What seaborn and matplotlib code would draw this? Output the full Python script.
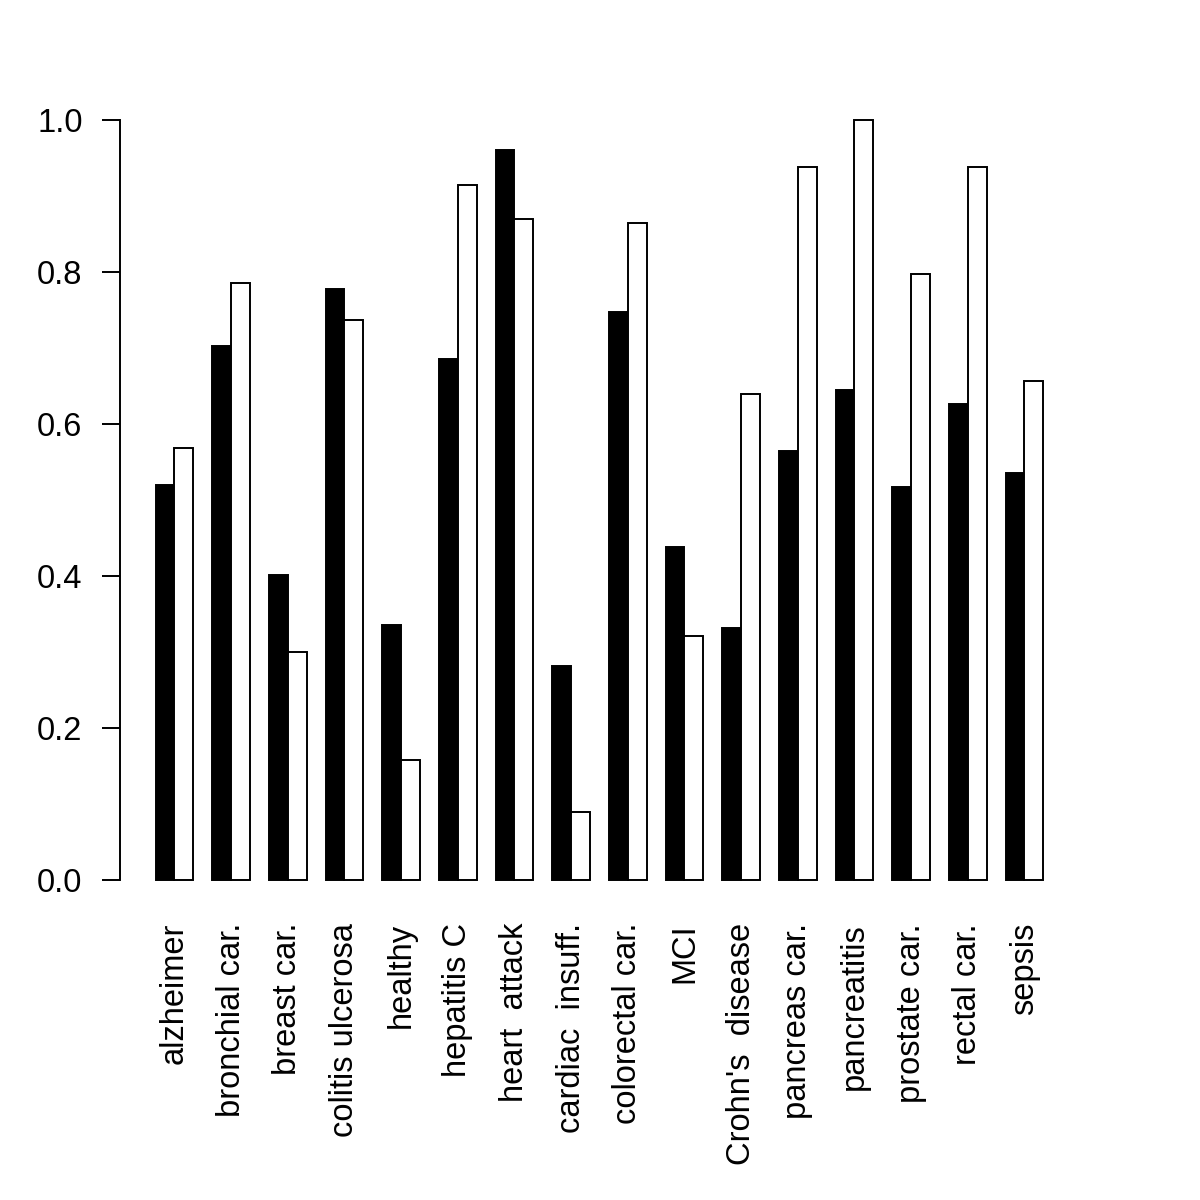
import matplotlib
matplotlib.use("Agg")
import matplotlib.pyplot as plt
import seaborn as sns
import pandas as pd

# categories and the two series (black / white bars)
diseases = ["alzheimer", "bronchial car.", "breast car.", "colitis ulcerosa",
            "healthy", "hepatitis C", "heart  attack", "cardiac  insuff.",
            "colorectal car.", "MCI", "Crohn's  disease", "pancreas car.",
            "pancreatitis", "prostate car.", "rectal car.", "sepsis"]
black_vals = [0.520, 0.703, 0.401, 0.777, 0.336, 0.685, 0.960, 0.282,
              0.747, 0.438, 0.331, 0.564, 0.645, 0.517, 0.626, 0.535]
white_vals = [0.569, 0.786, 0.300, 0.737, 0.158, 0.914, 0.870, 0.090,
              0.865, 0.321, 0.640, 0.938, 1.000, 0.797, 0.938, 0.657]
y_ticks = [0.0, 0.2, 0.4, 0.6, 0.8, 1.0]

sns.set_style("white")
plt.rcParams["font.family"] = ["Liberation Sans", "DejaVu Sans"]

df = pd.DataFrame({
    "disease": diseases * 2,
    "value": black_vals + white_vals,
    "series": ["black"] * len(diseases) + ["white"] * len(diseases),
})

fig = plt.figure(figsize=(12, 12), dpi=100)
ax = fig.add_axes([0.1, 1 - 910.4 / 1200, 0.799, (910.4 - 89.6) / 1200])

sns.barplot(data=df, x="disease", y="value", hue="series", order=diseases,
            palette=["black", "white"], edgecolor="black", linewidth=1.4,
            width=2 / 3, gap=0, saturation=1, errorbar=None, legend=False, ax=ax)

ax.set_xlim(-0.96, 15.96)
ax.set_ylim(-0.04, 1.04)
ax.set_xlabel("")
ax.set_ylabel("")

for s in ["top", "right", "bottom"]:
    ax.spines[s].set_visible(False)
ax.spines["left"].set_bounds(0, 1)
ax.spines["left"].set_linewidth(1.4)
ax.spines["left"].set_color("black")

ax.set_yticks(y_ticks)
ax.set_yticklabels([f"{v:.1f}" for v in y_ticks])
ax.tick_params(axis="y", left=True, length=13, width=1.4, color="black",
               labelsize=23.5, labelcolor="black", pad=14)
ax.tick_params(axis="x", bottom=False, length=0, labelsize=23.5,
               labelcolor="black", pad=9)
for lab in ax.get_xticklabels():
    lab.set_rotation(90)
    lab.set_ha("center")
    lab.set_va("top")

fig.savefig("out.png", dpi=100)
